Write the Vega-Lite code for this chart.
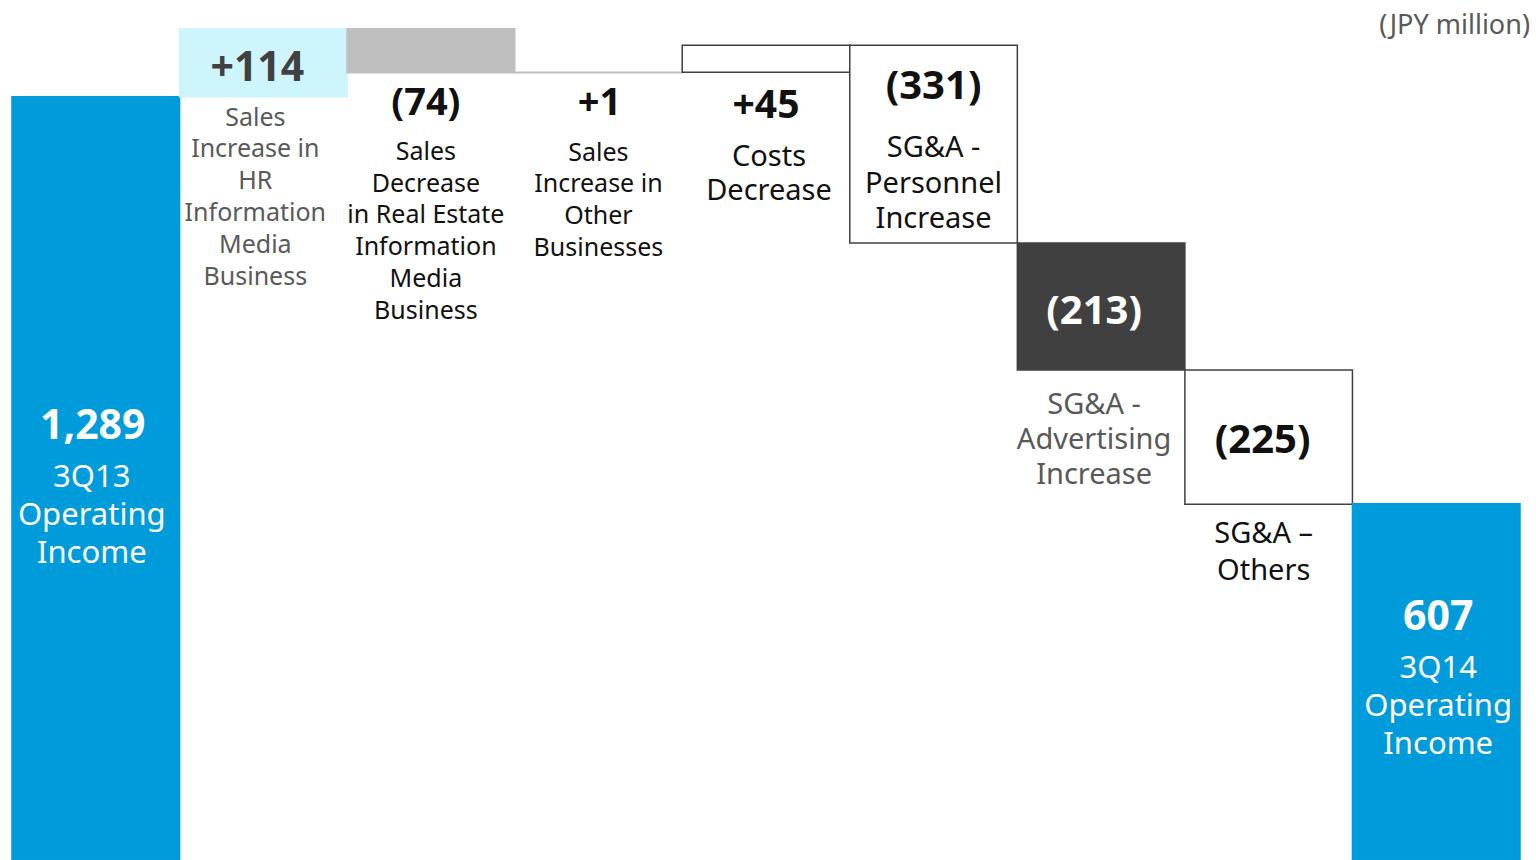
{
  "$schema": "https://vega.github.io/schema/vega-lite/v6.json",
  "width": 1536,
  "height": 860,
  "autosize": "none",
  "padding": 0,
  "background": "#ffffff",
  "title": {"text": "(JPY million)", "anchor": "end", "orient": "top", "offset": -53, "baseline": "middle", "dx": -6, "fontSize": 27, "fontWeight": "normal", "color": "#595959", "font": "Noto Sans"},
  "config": {"view": {"stroke": null}, "text": {"font": "Noto Sans", "lineBreak": "\n"}},
  "data": {"values": [
    {"step": "start", "start": 0, "end": 1289, "value": "1,289", "desc": "3Q13\nOperating\nIncome"},
    {"step": "hr", "start": 1289, "end": 1403, "value": "+114", "desc": "Sales\nIncrease in\nHR\nInformation\nMedia\nBusiness"},
    {"step": "re", "start": 1403, "end": 1329, "value": "(74)", "desc": "Sales\nDecrease\nin Real Estate\nInformation\nMedia\nBusiness"},
    {"step": "oth", "start": 1329, "end": 1330, "value": "+1", "desc": "Sales\nIncrease in\nOther\nBusinesses"},
    {"step": "cost", "start": 1330, "end": 1375, "value": "+45", "desc": "Costs\nDecrease"},
    {"step": "pers", "start": 1375, "end": 1044, "value": "(331)", "desc": "SG&A -\nPersonnel\nIncrease"},
    {"step": "adv", "start": 1044, "end": 831, "value": "(213)", "desc": "SG&A -\nAdvertising\nIncrease"},
    {"step": "sgo", "start": 831, "end": 606, "value": "(225)", "desc": "SG&A –\nOthers"},
    {"step": "end", "start": 0, "end": 607, "value": "607", "desc": "3Q14\nOperating\nIncome"}
  ]},
  "transform": [
    {"calculate": "max(datum.start, datum.end)", "as": "top"},
    {"calculate": "min(datum.start, datum.end)", "as": "bot"},
    {"calculate": "(datum.start + datum.end) / 2", "as": "mid"}
  ],
  "encoding": {
    "x": {"field": "step", "type": "nominal", "sort": null, "axis": null, "scale": {"range": [12, 1520], "paddingInner": 0, "paddingOuter": 0}}
  },
  "layer": [
    {
      "mark": {"type": "bar", "strokeWidth": 1.5},
      "encoding": {
        "y": {"field": "start", "type": "quantitative", "axis": null, "scale": {"domain": [10, 1451], "clamp": true, "nice": false, "zero": false}},
        "y2": {"field": "end"},
        "fill": {"field": "step", "type": "nominal", "legend": null, "scale": {"domain": ["start", "hr", "re", "oth", "cost", "pers", "adv", "sgo", "end"], "range": ["#009BDB", "#CFF5FC", "#BFBFBF", "#BFBFBF", "#FFFFFF", "#FFFFFF", "#404040", "#FFFFFF", "#009BDB"]}},
        "stroke": {"field": "step", "type": "nominal", "legend": null, "scale": {"domain": ["start", "hr", "re", "oth", "cost", "pers", "adv", "sgo", "end"], "range": ["#009BDB", "#CFF5FC", "#BFBFBF", "#BFBFBF", "#404040", "#404040", "#404040", "#404040", "#009BDB"]}}
      }
    },
    {"transform": [{"filter": "datum.step === 'start'"}], "mark": {"type": "text", "baseline": "middle", "fontSize": 41, "fontWeight": "bold", "color": "#ffffff", "dy": -54, "dx": -3}, "encoding": {"y": {"field": "mid", "type": "quantitative"}, "text": {"field": "value"}}},
    {"transform": [{"filter": "datum.step === 'start'"}], "mark": {"type": "text", "baseline": "middle", "fontSize": 31, "lineHeight": 38, "color": "#ffffff", "dy": -3, "dx": -4}, "encoding": {"y": {"field": "mid", "type": "quantitative"}, "text": {"field": "desc"}}},
    {"transform": [{"filter": "datum.step === 'end'"}], "mark": {"type": "text", "baseline": "middle", "fontSize": 41, "fontWeight": "bold", "color": "#ffffff", "dy": -67, "dx": 2}, "encoding": {"y": {"field": "mid", "type": "quantitative"}, "text": {"field": "value"}}},
    {"transform": [{"filter": "datum.step === 'end'"}], "mark": {"type": "text", "baseline": "middle", "fontSize": 31, "lineHeight": 38, "color": "#ffffff", "dy": -16, "dx": 2}, "encoding": {"y": {"field": "mid", "type": "quantitative"}, "text": {"field": "desc"}}},
    {"transform": [{"filter": "datum.step === 'hr'"}], "mark": {"type": "text", "baseline": "middle", "fontSize": 41, "fontWeight": "bold", "color": "#404040", "dy": 40, "dx": -6}, "encoding": {"y": {"field": "top", "type": "quantitative"}, "text": {"field": "value"}}},
    {"transform": [{"filter": "datum.step === 'hr'"}], "mark": {"type": "text", "baseline": "middle", "fontSize": 25, "lineHeight": 31.8, "color": "#595959", "dy": 21, "dx": -8}, "encoding": {"y": {"field": "bot", "type": "quantitative"}, "text": {"field": "desc"}}},
    {"transform": [{"filter": "datum.step === 're'"}], "mark": {"type": "text", "baseline": "middle", "fontSize": 38, "fontWeight": "bold", "color": "#111111", "dy": 31, "dx": -5}, "encoding": {"y": {"field": "bot", "type": "quantitative"}, "text": {"field": "value"}}},
    {"transform": [{"filter": "datum.step === 're'"}], "mark": {"type": "text", "baseline": "middle", "fontSize": 25, "lineHeight": 31.8, "color": "#111111", "dy": 79, "dx": -5}, "encoding": {"y": {"field": "bot", "type": "quantitative"}, "text": {"field": "desc"}}},
    {"transform": [{"filter": "datum.step === 'oth'"}], "mark": {"type": "text", "baseline": "middle", "fontSize": 38, "fontWeight": "bold", "color": "#111111", "dy": 31, "dx": 1}, "encoding": {"y": {"field": "bot", "type": "quantitative"}, "text": {"field": "value"}}},
    {"transform": [{"filter": "datum.step === 'oth'"}], "mark": {"type": "text", "baseline": "middle", "fontSize": 25, "lineHeight": 31.7, "color": "#111111", "dy": 80, "dx": 0}, "encoding": {"y": {"field": "bot", "type": "quantitative"}, "text": {"field": "desc"}}},
    {"transform": [{"filter": "datum.step === 'cost'"}], "mark": {"type": "text", "baseline": "middle", "fontSize": 39, "fontWeight": "bold", "color": "#111111", "dy": 34, "dx": 0}, "encoding": {"y": {"field": "bot", "type": "quantitative"}, "text": {"field": "value"}}},
    {"transform": [{"filter": "datum.step === 'cost'"}], "mark": {"type": "text", "baseline": "middle", "fontSize": 29, "lineHeight": 34, "color": "#111111", "dy": 85, "dx": 3}, "encoding": {"y": {"field": "bot", "type": "quantitative"}, "text": {"field": "desc"}}},
    {"transform": [{"filter": "datum.step === 'pers'"}], "mark": {"type": "text", "baseline": "middle", "fontSize": 40, "fontWeight": "bold", "color": "#111111", "dy": 42, "dx": 0}, "encoding": {"y": {"field": "top", "type": "quantitative"}, "text": {"field": "value"}}},
    {"transform": [{"filter": "datum.step === 'pers'"}], "mark": {"type": "text", "baseline": "middle", "fontSize": 29, "lineHeight": 35.5, "color": "#111111", "dy": 103, "dx": 0}, "encoding": {"y": {"field": "top", "type": "quantitative"}, "text": {"field": "desc"}}},
    {"transform": [{"filter": "datum.step === 'adv'"}], "mark": {"type": "text", "baseline": "middle", "fontSize": 40, "fontWeight": "bold", "color": "#ffffff", "dy": 6, "dx": -7}, "encoding": {"y": {"field": "mid", "type": "quantitative"}, "text": {"field": "value"}}},
    {"transform": [{"filter": "datum.step === 'adv'"}], "mark": {"type": "text", "baseline": "middle", "fontSize": 29, "lineHeight": 35, "color": "#595959", "dy": 35, "dx": -7}, "encoding": {"y": {"field": "bot", "type": "quantitative"}, "text": {"field": "desc"}}},
    {"transform": [{"filter": "datum.step === 'sgo'"}], "mark": {"type": "text", "baseline": "middle", "fontSize": 40, "fontWeight": "bold", "color": "#111111", "dy": 4, "dx": -6}, "encoding": {"y": {"field": "mid", "type": "quantitative"}, "text": {"field": "value"}}},
    {"transform": [{"filter": "datum.step === 'sgo'"}], "mark": {"type": "text", "baseline": "middle", "fontSize": 29, "lineHeight": 37, "color": "#111111", "dy": 30, "dx": -5}, "encoding": {"y": {"field": "bot", "type": "quantitative"}, "text": {"field": "desc"}}}
  ]
}
